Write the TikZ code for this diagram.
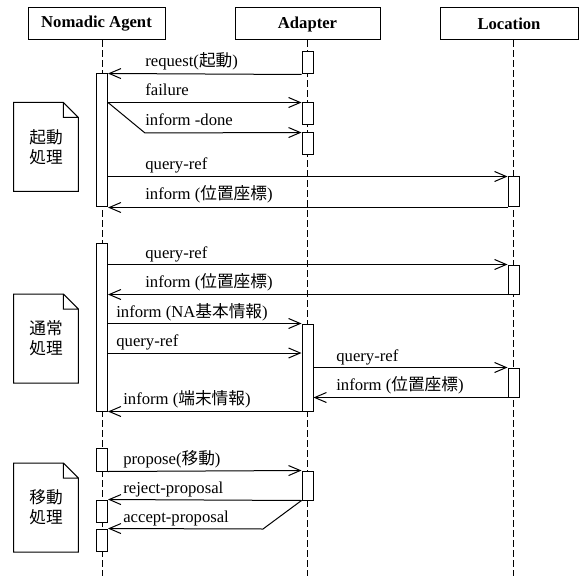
\documentclass[tikz,border=0pt]{standalone}
\usepackage{fontspec}
\setmainfont{Liberation Serif}
\newfontfamily\cjk{Noto Sans CJK JP}
\usetikzlibrary{arrows.meta, fit}
\tikzstyle{actor} = [rectangle, draw, line width=0.6pt, minimum height=19.2pt, text centered, font=\bfseries]
\tikzstyle{bar} = [rectangle, draw, fill=white, line width=0.6pt, inner sep=0pt]
\tikzstyle{note} = [rectangle, minimum width=38.4pt, minimum height=53pt, align=center, font=\cjk, text centered]
\tikzstyle{lifeline} = [line width=0.6pt, dash pattern=on 4pt off 2pt]
\tikzstyle{msg} = [line width=0.6pt, -{Straight Barb[length=7pt, width=6pt]}]
\tikzstyle{msglabel} = [anchor=base west, inner sep=0pt]

\begin{document}
\begin{tikzpicture}[x=0.6pt, y=-0.6pt]
	\useasboundingbox (0,0) rectangle (581,576);

	\node [actor, minimum width=82.2pt] at (96.5,24) (na) {Nomadic Agent};
	\node [actor, minimum width=87pt] at (307.5,24) (ad) {Adapter};
	\node [actor, minimum width=82.8pt] at (509,24) (lo) {Location};

	\coordinate (naend) at (102,576);
	\coordinate (adend) at (307.5,576);
	\coordinate (loend) at (513.5,576);
	\draw [lifeline] (na.south -| naend) -- (naend);
	\draw [lifeline] (ad.south -| adend) -- (adend);
	\draw [lifeline] (lo.south -| loend) -- (loend);

	\node [note] at (46,147) (n1) {起動\\処理};
	\node [note] at (46,338.5) (n2) {通常\\処理};
	\node [note] at (46,507.5) (n3) {移動\\処理};
	\foreach \n in {n1,n2,n3}
		\draw [line width=0.6pt] (\n.north west) -- ([xshift=-9pt]\n.north east) -- ([yshift=-9pt]\n.north east) -- (\n.south east) -- (\n.south west) -- cycle
			([xshift=-9pt]\n.north east) -- ([xshift=-9pt, yshift=-9pt]\n.north east) -- ([yshift=-9pt]\n.north east);

	\node [bar, fit={(96,74) (107.5,207)}] (nab1) {};
	\node [bar, fit={(302,52) (313,74)}] (adb1) {};
	\node [bar, fit={(302,103) (313,125)}] (adb2) {};
	\node [bar, fit={(302,133) (313,155)}] (adb3) {};
	\node [bar, fit={(508,177) (519,207)}] (lob1) {};

	\node [bar, fit={(96,243) (107.5,411)}] (nab2) {};
	\node [bar, fit={(508,265) (519,294)}] (lob2) {};
	\node [bar, fit={(302,324) (313,411)}] (adb4) {};
	\node [bar, fit={(508,368) (519,397)}] (lob3) {};

	\node [bar, fit={(96,448) (107.5,471)}] (nab3) {};
	\node [bar, fit={(302,471) (313,500)}] (adb5) {};
	\node [bar, fit={(96,500) (107.5,522)}] (nab4) {};
	\node [bar, fit={(96,529) (107.5,551)}] (nab5) {};

	\coordinate (bend1) at (145,133);
	\coordinate (bend2) at (263,529);
	\coordinate (t9) at (0,353);

	\node [msglabel] at (145,67) (m1) {request({\cjk 起動})};
	\node [msglabel] at (145,96) (m2) {failure};
	\node [msglabel] at (145,126) (m3) {inform -done};
	\node [msglabel] at (145,170) (m4) {query-ref};
	\node [msglabel] at (145,200) (m5) {inform ({\cjk 位置座標})};
	\node [msglabel] at (145,258) (m6) {query-ref};
	\node [msglabel] at (145,287) (m7) {inform ({\cjk 位置座標})};
	\node [msglabel] at (116,317) (m8) {inform (NA{\cjk 基本情報})};
	\node [msglabel] at (116,346) (m9) {query-ref};
	\node [msglabel] at (336,361) (m10) {query-ref};
	\node [msglabel] at (336,390) (m11) {inform ({\cjk 位置座標})};
	\node [msglabel] at (123,404) (m12) {inform ({\cjk 端末情報})};
	\node [msglabel] at (123,464) (m13) {propose({\cjk 移動})};
	\node [msglabel] at (123,493) (m14) {reject-proposal};
	\node [msglabel] at (123,522) (m15) {accept-proposal};

	\draw [msg] (adb1.south west) -- (nab1.north east);
	\draw [msg] (nab1.east |- adb2.north) -- (adb2.north west);
	\draw [msg] (nab1.east |- adb2.north) -- (bend1) -- (adb3.north west);
	\draw [msg] (nab1.east |- lob1.north) -- (lob1.north west);
	\draw [msg] (lob1.south west) -- (nab1.south east);

	\draw [msg] (nab2.east |- lob2.north) -- (lob2.north west);
	\draw [msg] (lob2.south west) -- (nab2.east |- lob2.south);
	\draw [msg] (nab2.east |- adb4.north) -- (adb4.north west);
	\draw [msg] (nab2.east |- t9) -- (adb4.west |- t9);
	\draw [msg] (adb4.east |- lob3.north) -- (lob3.north west);
	\draw [msg] (lob3.south west) -- (adb4.east |- lob3.south);
	\draw [msg] (adb4.south west) -- (nab2.south east);

	\draw [msg] (nab3.south east) -- (adb5.north west);
	\draw [msg] (adb5.south west) -- (nab4.north east);
	\draw [msg] (adb5.south west) -- (bend2) -- (nab5.north east);
\end{tikzpicture}
\end{document}
